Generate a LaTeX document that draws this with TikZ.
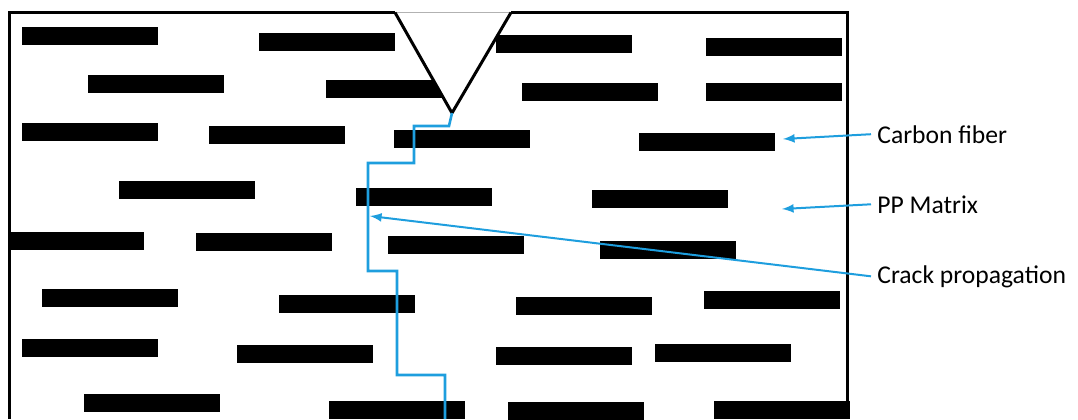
\documentclass[tikz,border=0pt]{standalone}
\usepackage{fontspec}
\setmainfont{Carlito}
\usepackage{xcolor}
\usepackage{tikz}
\definecolor{crackblue}{RGB}{30,158,222}

\begin{document}
\begin{tikzpicture}[x=0.5pt,y=-0.5pt,>=latex,
                    fiber/.style={fill=black},
                    crack/.style={crackblue,line width=1.3pt},
                    callout/.style={crackblue,line width=1pt},
                    tag/.style={inner xsep=3pt,inner ysep=0pt,anchor=base west,
                                font=\fontsize{12.8}{15}\selectfont}]

  \useasboundingbox (0,0) rectangle (1078,419);

  % fibres in the matrix
  \foreach \x/\y in {22/27, 259/33, 496/35, 706/38,
                     88/75, 326/80, 522/83, 706/83,
                     22/123, 209/126, 394/130, 639/133,
                     119/181, 356/188, 592/190,
                     8/232, 196/233, 388/236, 600/241,
                     42/289, 279/295, 516/297, 704/291,
                     22/339, 237/345, 496/347, 655/344,
                     84/394, 329/401, 508/402, 714/401}{
    \fill[fiber] (\x,\y) rectangle ++(136,18);
  }

  % notch
  \coordinate (nl) at (395,12.5);
  \coordinate (tip) at (452,113);
  \coordinate (nr) at (511,12.5);
  \fill[white] (nl) -- (tip) -- (nr) -- cycle;
  \draw[gray!60,line width=0.5pt] (nl) -- (nr);
  \draw[black,line width=1.5pt,line join=round] (nl) -- (tip) -- (nr);

  % specimen outline
  \draw[black,line width=1.5pt] (9,419) -- (9,12.5) -- (nl);
  \draw[black,line width=1.5pt] (nr) -- (847,12.5) -- (847,419);

  % crack path
  \draw[crack] (tip) -- (449,126) -- (414,126) -- (414,163) -- (368,163)
        -- (368,271) -- (397,271) -- (397,375) -- (445,375) -- (445,419);

  % labels
  \node[tag] (cf) at (871,143) {Carbon fiber};
  \node[tag] (pp) at (871,213) {PP Matrix};
  \node[tag] (cp) at (871,283) {Crack propagation};
  \coordinate (cfend) at (783,139);
  \coordinate (ppend) at (782,209);
  \coordinate (cpend) at (370,216);
  \draw[callout,->] (cf.west) -- (cfend);
  \draw[callout,->] (pp.west) -- (ppend);
  \draw[callout,->] (cp.west) -- (cpend);
\end{tikzpicture}
\end{document}
